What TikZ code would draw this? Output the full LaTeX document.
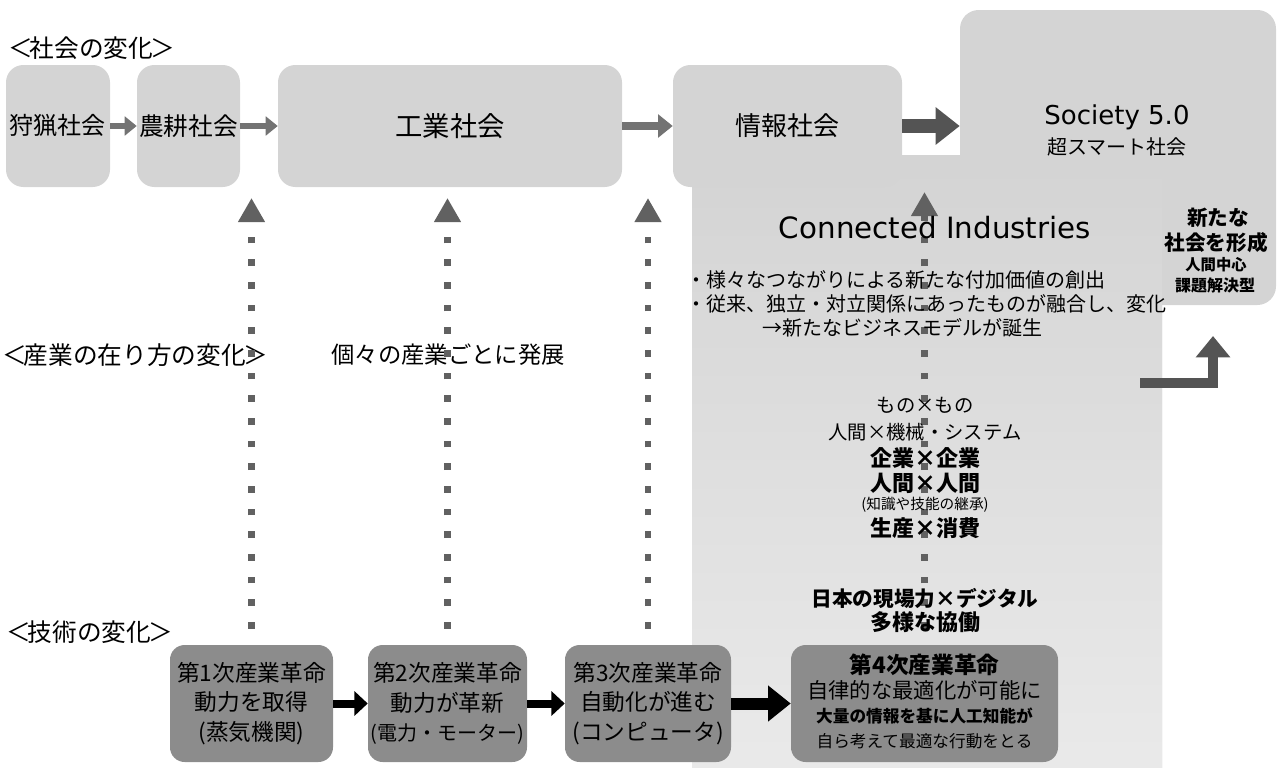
\documentclass[tikz,border=0pt]{standalone}
\usepackage{fontspec}
\setmainfont{Noto Sans CJK JP}
\newfontfamily\latf{DejaVu Sans}
\usetikzlibrary{arrows.meta}
\definecolor{lightg}{gray}{0.83}
\definecolor{paleg}{gray}{0.92}
\definecolor{boxdark}{gray}{0.55}
\definecolor{arrmid}{gray}{0.45}
\definecolor{arrdark}{gray}{0.33}
\definecolor{dotg}{gray}{0.38}
\newcommand{\fsz}[1]{\fontsize{#1}{#1}\selectfont}
\begin{document}
\begin{tikzpicture}[x=0.75pt,y=-0.75pt,
  softbox/.style={fill=lightg, rounded corners=13pt, inner sep=0pt, minimum height=91.5pt},
  revbox/.style={fill=boxdark, rounded corners=11pt, inner sep=0pt, minimum height=87.75pt, align=center, font=\fontsize{17}{22}\selectfont},
  region/.style={fill=lightg, rounded corners=14pt, inner sep=0pt},
  txt/.style={inner sep=0pt, align=center},
  smallarr/.style={draw=arrmid, line width=4.5pt, -{Triangle[length=9pt,width=14pt]}},
  midarr/.style={draw=arrmid, line width=5.5pt, -{Triangle[length=11pt,width=17pt]}},
  bigarr/.style={draw=arrdark, line width=10pt, -{Triangle[length=18pt,width=27pt]}},
  blackarr/.style={draw=black, line width=6pt, -{Triangle[length=10pt,width=18pt]}},
  blackbig/.style={draw=black, line width=9pt, -{Triangle[length=17pt,width=26pt]}},
  dotarr/.style={draw=dotg, line width=5pt, dash pattern=on 5pt off 12pt, -{Triangle[length=18pt,width=19pt]}, shorten <=12pt},
  elbarr/.style={draw=arrdark, line width=7.5pt, -{Triangle[length=16pt,width=25pt]}},
]
\useasboundingbox (0,0) rectangle (1279,768);

% large background regions
\node[region, minimum width=237pt, minimum height=221.25pt] (s5) at (1118,157.5) {};
\node[region, top color=lightg, bottom color=paleg, minimum width=352.5pt, minimum height=483.75pt] (ci) at (927,477.5) {};

% society row
\node[softbox, minimum width=78pt, font=\fsz{18}] (b1) at (58,126) {狩猟社会};
\node[softbox, minimum width=77.25pt, font=\fsz{18.5}] (b2) at (188.5,126) {農耕社会};
\node[softbox, minimum width=258pt, font=\fsz{20.5}] (b3) at (450,126) {工業社会};
\node[softbox, minimum width=171.75pt, font=\fsz{19.5}] (b4) at (787.5,126) {情報社会};

\draw[smallarr] (b1.east) -- (b2.west);
\draw[smallarr] (b2.east) -- (b3.west);
\draw[midarr] (b3.east) -- (b4.west);
\draw[bigarr] (b4.east) -- (s5.west |- b4.east);

\node[txt, font=\latf\fsz{19.5}] (s5t) at (1117,117) {Society 5.0};
\node[txt, font=\fsz{15}] (s5j) at (1117,147) {超スマート社会};

% section labels
\node[txt, anchor=west, font=\fsz{18.5}] (lsoc) at (8,48) {＜\kern-0.12em社会の変化\kern-0.12em＞};
\node[txt, anchor=west, font=\fsz{18.5}] (lind) at (2,355) {＜\kern-0.12em産業の在り方の変化\kern-0.12em＞};
\node[txt, anchor=west, font=\fsz{18.5}] (ltec) at (6,632) {＜\kern-0.12em技術の変化\kern-0.12em＞};
\node[txt, font=\fsz{17.5}] (indiv) at (448,355) {個々の産業ごとに発展};

% technology row
\node[revbox, minimum width=122.25pt] (r1) at (251.5,703.5) {第1次産業革命\\動力を取得\\(蒸気機関)};
\node[revbox, minimum width=119.25pt] (r2) at (447.5,703.5) {第2次産業革命\\動力が革新\\{\fontsize{15}{22}\selectfont (電力・モーター)}};
\node[revbox, minimum width=124.5pt] (r3) at (648,703.5) {第3次産業革命\\自動化が進む\\(コンピュータ)};
\node[revbox, minimum width=200.25pt] (r4) at (924.5,703.5) {};

\draw[blackarr] (r1.east) -- (r2.west);
\draw[blackarr] (r2.east) -- (r3.west);
\draw[blackbig] (r3.east) -- (r4.west);

% dotted upward arrows
\coordinate (d1) at (251.5,198);
\coordinate (d2) at (447.5,198);
\coordinate (d3) at (648,198);
\coordinate (d4) at (924.5,192);
\draw[dotarr] (r1.north) -- (d1);
\draw[dotarr] (r2.north) -- (d2);
\draw[dotarr] (r3.north) -- (d3);
\draw[dotarr] (r4.north) -- (d4);

% 4th revolution text
\node[txt, font=\bfseries\fsz{17}] (t4a) at (924.5,665) {第4次産業革命};
\node[txt, font=\fsz{16}] (t4b) at (924.5,690) {自律的な最適化が可能に};
\node[txt, font=\bfseries\fsz{12.5}] (t4c) at (924.5,716) {大量の情報を基に人工知能が};
\node[txt, font=\fsz{12.5}] (t4d) at (924.5,741) {自ら考えて最適な行動をとる};

% Connected Industries block
\node[txt, font=\latf\fsz{22}] (cit) at (935,228) {Connected Industries};
\node[txt, anchor=west, font=\fsz{15}] (ci1) at (686,280) {・様々なつながりによる新たな付加価値の創出};
\node[txt, anchor=west, font=\fsz{15}] (ci2) at (686,304) {・従来、独立・対立関係にあったものが融合し、変化};
\node[txt, anchor=west, font=\fsz{15}] (ci3) at (762,328) {→新たなビジネスモデルが誕生};

\node[txt, font=\fsz{14.5}] (m1) at (925,405) {もの×もの};
\node[txt, font=\fsz{14.5}] (m2) at (925,432) {人間×機械・システム};
\node[txt, font=\bfseries\fsz{16.5}] (m3) at (925,458) {企業×企業};
\node[txt, font=\bfseries\fsz{16.5}] (m4) at (925,483) {人間×人間};
\node[txt, font=\fsz{11}] (m5) at (925,505) {(知識や技能の継承)};
\node[txt, font=\bfseries\fsz{16.5}] (m6) at (925,528) {生産×消費};
\node[txt, font=\bfseries\fsz{15.5}] (m7) at (925,598) {日本の現場力×デジタル};
\node[txt, font=\bfseries\fsz{16.5}] (m8) at (925,622) {多様な協働};

% new society labels
\node[txt, font=\bfseries\fsz{15.5}] (n1) at (1218,218) {新たな};
\node[txt, font=\bfseries\fsz{15.5}] (n2) at (1216,243) {社会を形成};
\node[txt, font=\bfseries\fsz{11.5}] (n3) at (1216,265) {人間中心};
\node[txt, font=\bfseries\fsz{12}] (n4) at (1215,285) {課題解決型};

% elbow arrow
\coordinate (e1) at (1140,383);
\coordinate (e2) at (1213,336);
\draw[elbarr] (e1) -| (e2);
\end{tikzpicture}
\end{document}
